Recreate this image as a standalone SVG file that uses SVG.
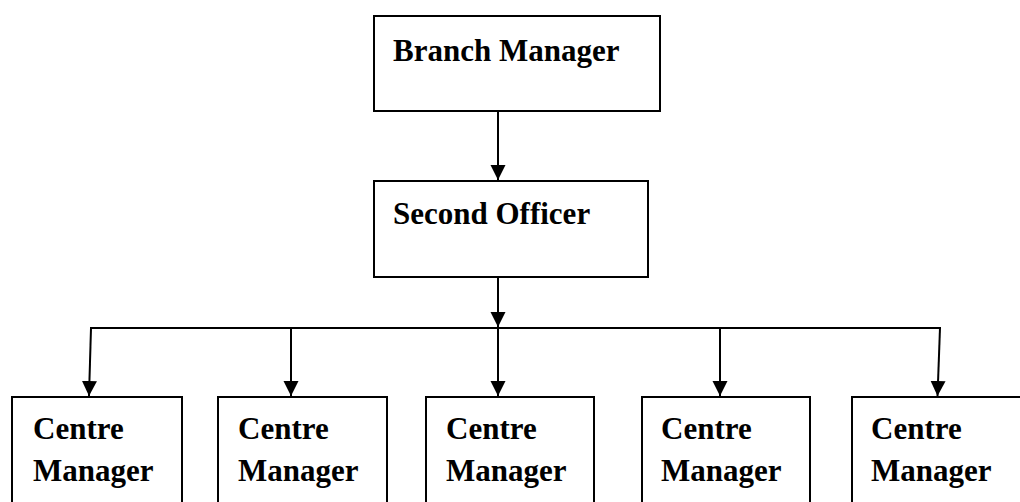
<svg xmlns="http://www.w3.org/2000/svg" width="1020" height="502" viewBox="0 0 1020 502">
<style>
.box{fill:#fff;stroke:#000;stroke-width:2}
.t{font-family:"Liberation Serif","Times New Roman",serif;font-weight:bold;font-size:31px;fill:#000}
.c{stroke:#000;stroke-width:2;fill:none}
</style>
<defs>
<marker id="ah" markerUnits="userSpaceOnUse" markerWidth="16" markerHeight="16" viewBox="0 0 16 16" refX="15" refY="8" orient="auto">
<path d="M0,0.5 L15,8 L0,15.5 Z" fill="#000"/>
</marker>
</defs>
<g id="connectors">
<line class="c" x1="498" y1="111" x2="498" y2="180" marker-end="url(#ah)"/>
<line class="c" x1="498" y1="277" x2="498" y2="327" marker-end="url(#ah)"/>
<line class="c" x1="90" y1="328" x2="941" y2="328"/>
<line class="c" x1="498" y1="328" x2="498" y2="396" marker-end="url(#ah)"/>
<line class="c" x1="91" y1="328" x2="89" y2="396" marker-end="url(#ah)"/>
<line class="c" x1="291" y1="328" x2="291" y2="396" marker-end="url(#ah)"/>
<line class="c" x1="720" y1="328" x2="720" y2="396" marker-end="url(#ah)"/>
<line class="c" x1="940" y1="328" x2="937.5" y2="396" marker-end="url(#ah)"/>
</g>
<g id="branch-manager">
<rect class="box" x="374" y="16" width="286" height="95"/>
<text class="t" x="393" y="61">Branch Manager</text>
</g>
<g id="second-officer">
<rect class="box" x="374" y="181" width="274" height="96"/>
<text class="t" x="393" y="224">Second Officer</text>
</g>
<g id="centre-manager-1">
<rect class="box" x="12" y="397" width="170" height="120"/>
<text class="t" x="33" y="439">Centre</text>
<text class="t" x="33" y="481">Manager</text>
</g>
<g id="centre-manager-2">
<rect class="box" x="218" y="397" width="169" height="120"/>
<text class="t" x="238" y="439">Centre</text>
<text class="t" x="238" y="481">Manager</text>
</g>
<g id="centre-manager-3">
<rect class="box" x="426" y="397" width="168" height="120"/>
<text class="t" x="446" y="439">Centre</text>
<text class="t" x="446" y="481">Manager</text>
</g>
<g id="centre-manager-4">
<rect class="box" x="642" y="397" width="168" height="120"/>
<text class="t" x="661" y="439">Centre</text>
<text class="t" x="661" y="481">Manager</text>
</g>
<g id="centre-manager-5">
<rect class="box" x="852" y="397" width="180" height="120"/>
<text class="t" x="871" y="439">Centre</text>
<text class="t" x="871" y="481">Manager</text>
</g>
</svg>
